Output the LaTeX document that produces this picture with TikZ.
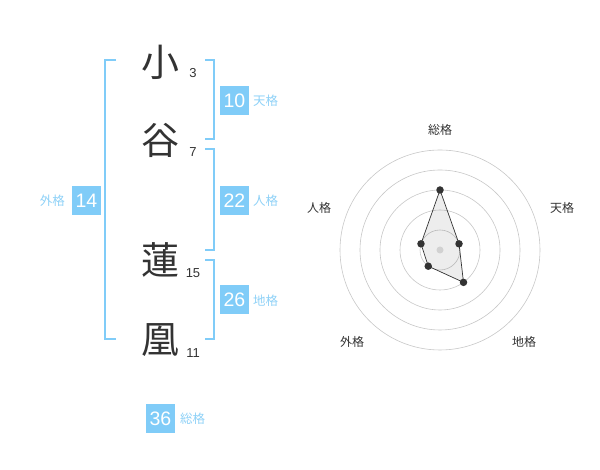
\documentclass[tikz,border=0pt]{standalone}
\usepackage{fontspec}
\setmainfont{Liberation Sans}
\newfontfamily\jpfont{Noto Sans CJK JP}
\definecolor{kaku}{HTML}{80CCF8}
\definecolor{kakutxt}{HTML}{8ED1F7}
\definecolor{sumi}{HTML}{333333}
\begin{document}
\begin{tikzpicture}[x=1pt,y=1pt,
    kanji/.style={text=sumi,inner sep=0,font=\jpfont\fontsize{38}{38}\selectfont},
    kakusu/.style={text=sumi,inner sep=0,font=\fontsize{13}{13}\selectfont},
    hako/.style={fill=kaku,text=white,minimum size=29pt,inner sep=0,font=\fontsize{19.5}{19.5}\selectfont},
    nome/.style={text=kakutxt,inner sep=0,font=\jpfont\fontsize{12.5}{12.5}\selectfont},
    asse/.style={text=sumi,inner sep=0,font=\jpfont\fontsize{12}{12}\selectfont},
    staffa/.style={draw=kaku,line width=2pt},
    anello/.style={draw=black!22,line width=0.6pt},
    punto/.style={circle,fill=sumi,inner sep=0,minimum size=7.5pt}]
            \useasboundingbox (0,0) rectangle (600,470);

            %i quattro caratteri del nome
            \node[kanji] (c1) at (160,408) {小};
            \node[kanji] (c2) at (160,330) {谷};
            \node[kanji] (c3) at (160,210) {蓮};
            \node[kanji] (c4) at (160,130) {凰};

            %numero di tratti
            \node[kakusu] (n1) at (193,397) {3};
            \node[kakusu] (n2) at (193,318) {7};
            \node[kakusu] (n3) at (193,197) {15};
            \node[kakusu] (n4) at (193,117) {11};

            %parentesi
            \draw[staffa] (116,410) -- (104.5,410) -- (104.5,131) -- (116,131);
            \draw[staffa] (205,410) -- (214,410) -- (214,331) -- (205,331);
            \draw[staffa] (205,321) -- (214,321) -- (214,220) -- (205,220);
            \draw[staffa] (205,210) -- (214,210) -- (214,131) -- (205,131);

            %riquadri con i valori
            \node[hako] (ten) at (234.5,369.5) {10};
            \node[hako] (jin) at (234.5,269.5) {22};
            \node[hako] (chi) at (234.5,170) {26};
            \node[hako] (gai) at (86.5,269.5) {14};
            \node[hako] (so) at (160.5,51) {36};

            %etichette
            \node[nome,anchor=west] (tenl) at (253,369) {天格};
            \node[nome,anchor=west] (jinl) at (253,269) {人格};
            \node[nome,anchor=west] (chil) at (253,169) {地格};
            \node[nome,anchor=east] (gail) at (65,269) {外格};
            \node[nome,anchor=west] (sol) at (180,51) {総格};

            %grafico radar
            \begin{scope}[shift={(440,220)}]
            \draw[anello] (0,0) circle (20);
            \draw[anello] (0,0) circle (40);
            \draw[anello] (0,0) circle (60);
            \draw[anello] (0,0) circle (80);
            \draw[anello] (0,0) circle (100);

            \node[asse] (a1) at (0,120) {総格};
            \node[asse] (a2) at (122,42) {天格};
            \node[asse] (a3) at (84,-92) {地格};
            \node[asse] (a4) at (-88,-92) {外格};
            \node[asse] (a5) at (-121,42) {人格};

            \coordinate (p1) at (90:60);
            \coordinate (p2) at (18:20);
            \coordinate (p3) at (-54:40);
            \coordinate (p4) at (-126:20);
            \coordinate (p5) at (162:20);

            \fill[black,opacity=0.07] (p1) -- (p2) -- (p3) -- (p4) -- (p5) -- cycle;
            \draw[sumi,line width=0.7pt] (p1) -- (p2) -- (p3) -- (p4) -- (p5) -- cycle;
            \fill[black!18] (0,0) circle (3.5);

            \node[punto] at (p1) {};
            \node[punto] at (p2) {};
            \node[punto] at (p3) {};
            \node[punto] at (p4) {};
            \node[punto] at (p5) {};
            \end{scope}

        \end{tikzpicture}
\end{document}
